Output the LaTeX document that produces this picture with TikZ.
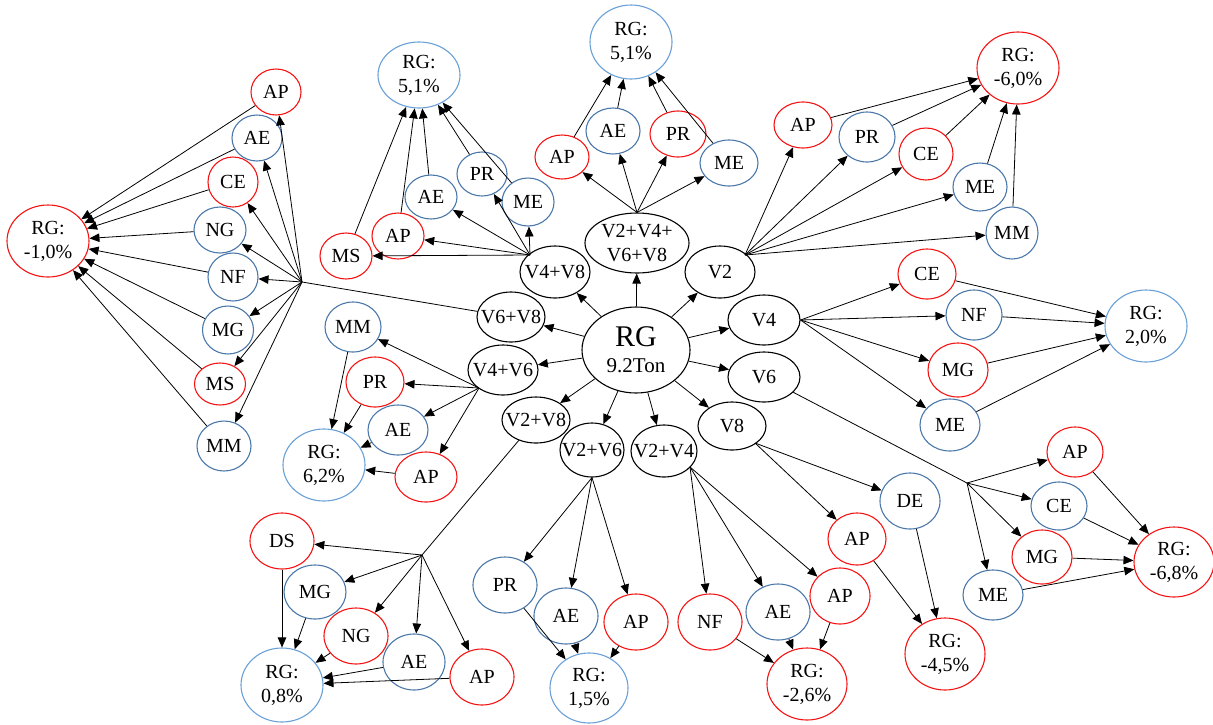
\documentclass[tikz,border=0pt]{standalone}
\usepackage{fontspec}
\setmainfont{Liberation Serif}
\usetikzlibrary{arrows.meta,shapes.geometric}
\definecolor{nred}{RGB}{245,20,20}
\definecolor{nblue}{RGB}{75,120,170}
\definecolor{lblue}{RGB}{105,160,215}
\newcommand{\zw}[1]{\makebox[0pt]{#1}}
\begin{document}
\begin{tikzpicture}[x=1pt,y=-1pt,
  base/.style={ellipse,draw,inner sep=0pt,align=center,line width=1.1pt,
    font=\fontsize{20}{24}\selectfont},
  sz/.style 2 args={minimum width=#1pt,minimum height=#2pt},
  rd/.style={base,draw=nred},
  bl/.style={base,draw=nblue},
  lb/.style={base,draw=lblue},
  bk/.style={base,draw=black},
  ar/.style={-{Triangle[length=10pt,width=8.5pt]},line width=0.8pt},
  ln/.style={line width=0.8pt}]
\useasboundingbox (0,0) rectangle (1213,724);

% central and V nodes
\node[bk,sz={108}{86},font=\fontsize{21}{25}\selectfont] (c) at (636,350) {{\fontsize{30}{30}\selectfont RG}\\[1pt]9.2Ton};
\node[bk,sz={70}{52}] (v48) at (555,272) {\zw{V4+V8}};
\node[bk,sz={104}{60}] (v2468) at (637,243) {V2+V4+\\V6+V8};
\node[bk,sz={70}{52}] (v2) at (720,272) {\zw{V2}};
\node[bk,sz={68}{50}] (v68) at (511,317) {\zw{V6+V8}};
\node[bk,sz={70}{50}] (v46) at (503,370) {\zw{V4+V6}};
\node[bk,sz={68}{46}] (v28) at (536,420) {\zw{V2+V8}};
\node[bk,sz={64}{54}] (v26) at (592,450) {\zw{V2+V6}};
\node[bk,sz={66}{52}] (v24) at (664,451) {\zw{V2+V4}};
\node[bk,sz={72}{50}] (v4) at (764,320) {\zw{V4}};
\node[bk,sz={72}{50}] (v6) at (764,377) {\zw{V6}};
\node[bk,sz={68}{48}] (v8) at (732,426) {\zw{V8}};

\foreach \n in {v48,v2468,v2,v68,v4,v46,v6,v28,v26,v24,v8}
  \draw[ar] (c) -- (\n);

% group V6+V8 (left)
\coordinate (ha) at (302,282);
\node[rd,sz={50}{46}] (aAP) at (276,92) {AP};
\node[bl,sz={50}{46}] (aAE) at (257,138) {AE};
\node[rd,sz={50}{50}] (aCE) at (233,182) {CE};
\node[bl,sz={52}{46}] (aNG) at (220,230) {NG};
\node[bl,sz={50}{48}] (aNF) at (233,277) {NF};
\node[bl,sz={51}{48}] (aMG) at (228,330) {MG};
\node[rd,sz={51}{42}] (aMS) at (220,384) {MS};
\node[bl,sz={54}{50}] (aMM) at (224,446) {MM};
\node[rd,sz={82}{72}] (aRG) at (48,241) {RG:\\-1,0\%};
\draw[ln] (v68) -- (ha);
\foreach \n in {aAP,aAE,aCE,aNG,aNF,aMG,aMS,aMM}
  {\draw[ar] (ha) -- (\n); \draw[ar] (\n) -- (aRG);}

% group V4+V8
\coordinate (hb) at (530,255);
\node[lb,sz={82}{66}] (bRG) at (419,75) {RG:\\5,1\%};
\node[rd,sz={52}{46}] (bMS) at (346,256) {MS};
\node[rd,sz={52}{46}] (bAP) at (398,236) {AP};
\node[bl,sz={52}{44}] (bAE) at (431,197) {AE};
\node[bl,sz={50}{44}] (bPR) at (482,174) {PR};
\node[bl,sz={52}{48}] (bME) at (528,202) {ME};
\foreach \n in {bMS,bAP,bAE,bPR,bME}
  {\draw[ar] (hb) -- (\n); \draw[ar] (\n) -- (bRG);}

% group V2+V4+V6+V8
\node[lb,sz={82}{74}] (mRG) at (631,42) {RG:\\5,1\%};
\node[rd,sz={54}{44}] (mAP) at (562,157) {AP};
\node[bl,sz={54}{46}] (mAE) at (613,131) {AE};
\node[rd,sz={56}{46}] (mPR) at (678,134) {PR};
\node[bl,sz={58}{46}] (mME) at (729,163) {ME};
\foreach \n in {mAP,mAE,mPR,mME}
  {\draw[ar] (v2468.north) -- (\n); \draw[ar] (\n) -- (mRG);}

% group V2
\coordinate (hr) at (745,255);
\node[rd,sz={82}{72}] (rRG) at (1018,68) {RG:\\-6,0\%};
\node[rd,sz={58}{46}] (rAP) at (803,125) {AP};
\node[bl,sz={56}{50}] (rPR) at (867,137) {PR};
\node[rd,sz={54}{52}] (rCE) at (926,154) {CE};
\node[bl,sz={54}{48}] (rME) at (980,187) {ME};
\node[bl,sz={52}{52}] (rMM) at (1012,233) {MM};
\foreach \n in {rAP,rPR,rCE,rME,rMM}
  {\draw[ar] (hr) -- (\n); \draw[ar] (\n) -- (rRG);}

% group V4
\node[rd,sz={58}{50}] (sCE) at (927,274) {CE};
\node[bl,sz={56}{50}] (sNF) at (974,315) {NF};
\node[rd,sz={60}{54}] (sMG) at (958,370) {MG};
\node[bl,sz={60}{52}] (sME) at (950,425) {ME};
\node[lb,sz={82}{72}] (sRG) at (1146,326) {RG:\\2,0\%};
\foreach \n in {sCE,sNF,sMG,sME}
  {\draw[ar] (v4.east) -- (\n); \draw[ar] (\n) -- (sRG);}

% group V6
\coordinate (ht) at (967,483);
\node[rd,sz={56}{50}] (tAP) at (1075,452) {AP};
\node[bl,sz={56}{48}] (tCE) at (1059,506) {CE};
\node[rd,sz={60}{54}] (tMG) at (1042,557) {MG};
\node[bl,sz={60}{50}] (tME) at (993,595) {ME};
\node[rd,sz={80}{70}] (tRG) at (1174,562) {RG:\\-6,8\%};
\draw[ln] (v6) -- (ht);
\foreach \n in {tAP,tCE,tMG,tME}
  {\draw[ar] (ht) -- (\n); \draw[ar] (\n) -- (tRG);}

% group V8
\coordinate (hu) at (755,443);
\node[bl,sz={60}{56}] (uDE) at (910,501) {DE};
\node[rd,sz={58}{52}] (uAP) at (857,539) {AP};
\node[rd,sz={80}{72}] (uRG) at (945,654) {RG:\\-4,5\%};
\foreach \n in {uDE,uAP}
  {\draw[ar] (hu) -- (\n); \draw[ar] (\n) -- (uRG);}

% group V2+V4
\coordinate (hw) at (690,467);
\node[rd,sz={64}{56}] (wNF) at (710,622) {NF};
\node[bl,sz={64}{56}] (wAE) at (778,612) {AE};
\node[rd,sz={60}{56}] (wAP) at (840,596) {AP};
\node[rd,sz={80}{72}] (wRG) at (807,684) {RG:\\-2,6\%};
\foreach \n in {wNF,wAE,wAP}
  {\draw[ar] (hw) -- (\n); \draw[ar] (\n) -- (wRG);}

% group V2+V6
\node[bl,sz={64}{56}] (pPR) at (505,585) {PR};
\node[bl,sz={64}{56}] (pAE) at (566,616) {AE};
\node[rd,sz={64}{56}] (pAP) at (636,622) {AP};
\node[lb,sz={78}{70}] (pRG) at (589,688) {RG:\\1,5\%};
\foreach \n in {pPR,pAE,pAP}
  {\draw[ar] (v26.south) -- (\n); \draw[ar] (\n) -- (pRG);}

% group V2+V8
\coordinate (hq) at (422,555);
\node[rd,sz={64}{56}] (qDS) at (282,541) {DS};
\node[bl,sz={62}{54}] (qMG) at (315,592) {MG};
\node[rd,sz={64}{56}] (qNG) at (356,636) {NG};
\node[bl,sz={62}{56}] (qAE) at (414,662) {AE};
\node[rd,sz={64}{56}] (qAP) at (482,677) {AP};
\node[lb,sz={82}{74}] (qRG) at (282,685) {RG:\\0,8\%};
\draw[ln] (v28) -- (hq);
\foreach \n in {qDS,qMG,qNG,qAE,qAP}
  {\draw[ar] (hq) -- (\n); \draw[ar] (\n) -- (qRG);}

% group V4+V6
\coordinate (hn) at (479,388);
\node[bl,sz={56}{50}] (nMM) at (353,327) {MM};
\node[rd,sz={58}{50}] (nPR) at (375,382) {PR};
\node[bl,sz={60}{50}] (nAE) at (398,430) {AE};
\node[rd,sz={62}{50}] (nAP) at (426,477) {AP};
\node[lb,sz={82}{72}] (nRG) at (324,465) {RG:\\6,2\%};
\foreach \n in {nMM,nPR,nAE,nAP}
  {\draw[ar] (hn) -- (\n); \draw[ar] (\n) -- (nRG);}
\end{tikzpicture}
\end{document}
